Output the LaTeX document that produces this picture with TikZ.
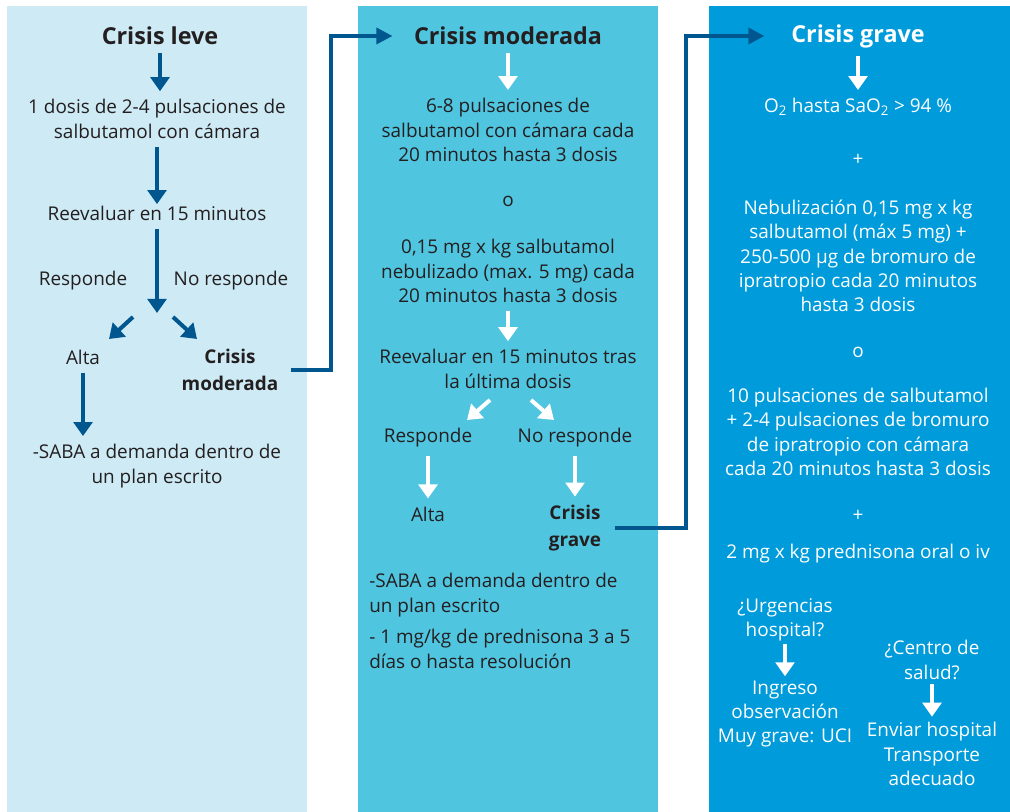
\documentclass[tikz,border=0pt]{standalone}
\usepackage{fontspec}
\setmainfont{Open Sans}
\usetikzlibrary{arrows.meta,calc}
\definecolor{pale}{HTML}{CDEAF5}
\definecolor{mid}{HTML}{50C5E0}
\definecolor{deep}{HTML}{009BDA}
\definecolor{navy}{HTML}{00568F}
\definecolor{ink}{HTML}{231F20}

\begin{document}
\begin{tikzpicture}[x=0.75pt,y=-0.75pt,
	txt/.style={align=center,font=\fontsize{14.2}{18.3}\selectfont,text=ink,inner sep=0pt},
	wtxt/.style={txt,text=white},
	ttl/.style={align=center,font=\fontsize{17.5}{20}\selectfont\bfseries,text=ink,inner sep=0pt},
	bld/.style={txt,font=\fontsize{14.2}{20.5}\selectfont\bfseries},
	darr/.style={line width=3pt,navy,-{Triangle[width=14pt,length=10.5pt]},shorten <=6pt,shorten >=6pt},
	warr/.style={darr,white},
	elb/.style={line width=2.5pt,navy,-{Triangle[width=12pt,length=12pt]}}]

	\useasboundingbox (0,0) rectangle (1010,812);

	\fill[pale] (7,6) rectangle (307,812);
	\fill[mid] (358,6) rectangle (658,812);
	\fill[deep] (709,6) rectangle (1010,812);

	% leve
	\node[ttl] (lv) at (160,36) {Crisis leve};
	\node[txt] (s1) at (157,119) {1 dosis de 2-4 pulsaciones de\\salbutamol con cámara};
	\node[txt] (ev1) at (157,213) {Reevaluar en 15 minutos};
	\node[txt] (r1) at (83,281) {Responde};
	\node[txt] (n1) at (231,281) {No responde};
	\node[txt] (al1) at (83,357) {Alta};
	\node[bld] (cm1) at (230,370) {Crisis\\moderada};
	\node[txt] (sb1) at (157,466) {-SABA a demanda dentro de\\un plan escrito};
	\coordinate (f1) at (157,313);

	\draw[darr] (lv) -- (lv |- s1.north);
	\draw[darr,shorten >=1pt] (s1) -- (s1 |- ev1.north);
	\draw[darr,shorten >=0pt] (ev1) -- (f1);
	\draw[darr,shorten <=0pt,shorten >=0pt] ($(f1)+(-24,4)$) -- ($(f1)+(-48,26)$);
	\draw[darr,shorten <=0pt,shorten >=0pt] ($(f1)+(16,4)$) -- ($(f1)+(40,26)$);
	\draw[darr] (al1) -- (al1 |- sb1.north);

	% moderada
	\node[ttl] (cm2) at (508,36) {Crisis moderada};
	\node[txt] (p2) at (508,130) {6-8 pulsaciones de\\salbutamol con cámara cada\\20 minutos hasta 3 dosis};
	\node[txt] (o2) at (508,201) {o};
	\node[txt] (q2) at (508,271) {0,15 mg x kg salbutamol\\nebulizado (max. 5 mg) cada\\20 minutos hasta 3 dosis};
	\node[txt] (ev2) at (508,369) {Reevaluar en 15 minutos tras\\la última dosis};
	\node[txt] (r2) at (428,438) {Responde};
	\node[txt] (n2) at (575,438) {No responde};
	\node[txt] (al2) at (428,514) {Alta};
	\node[bld] (cg2) at (575,528) {Crisis\\grave};
	\node[txt,align=left,anchor=west] (sb2) at (369,595) {-SABA a demanda dentro de\\un plan escrito};
	\node[txt,align=left,anchor=west] (pr2) at (369,649) {- 1 mg/kg de prednisona 3 a 5\\días o hasta resolución};
	\coordinate (f2) at (510,396);

	\draw[warr] (cm2) -- (cm2 |- p2.north);
	\draw[warr] (q2) -- (q2 |- ev2.north);
	\draw[warr,shorten <=0pt,shorten >=0pt] ($(f2)+(-20,4)$) -- ($(f2)+(-43,24)$);
	\draw[warr,shorten <=0pt,shorten >=0pt] ($(f2)+(21,4)$) -- ($(f2)+(44,24)$);
	\draw[warr] (r2) -- (al2);
	\draw[warr] (n2) -- (n2 |- cg2.north);

	% grave
	\node[ttl,text=white] (cg3) at (858,36) {Crisis grave};
	\node[wtxt] (ox) at (858,107) {O\textsubscript{2} hasta SaO\textsubscript{2} > 94 \%};
	\node[wtxt] (pl1) at (858,160) {+};
	\node[wtxt] (neb) at (858,256) {Nebulización 0,15 mg x kg\\salbutamol (máx 5 mg) +\\250-500 µg de bromuro de\\ipratropio cada 20 minutos\\hasta 3 dosis};
	\node[wtxt] (o3) at (858,352) {o};
	\node[wtxt] (pul) at (858,432) {10 pulsaciones de salbutamol\\+ 2-4 pulsaciones de bromuro\\de ipratropio con cámara\\cada 20 minutos hasta 3 dosis};
	\node[wtxt] (pl2) at (858,516) {+};
	\node[wtxt] (pd) at (858,554) {2 mg x kg prednisona oral o iv};
	\node[wtxt] (urg) at (785,620) {¿Urgencias\\hospital?};
	\node[wtxt] (ing) at (785,714) {Ingreso\\observación\\Muy grave: UCI};
	\node[wtxt] (cen) at (932,660) {¿Centro de\\salud?};
	\node[wtxt] (env) at (932,754) {Enviar hospital\\Transporte\\adecuado};

	\draw[warr] (cg3) -- (cg3 |- ox.north);
	\draw[warr,shorten <=2pt,shorten >=3pt] (urg) -- (ing);
	\draw[warr,shorten <=3pt,shorten >=4pt] (cen) -- (env);

	% saltos
	\coordinate (k1) at (331,0);
	\coordinate (k2) at (686,0);
	\draw[elb,shorten >=16pt] ([xshift=9pt]cm1.east) -| (k1 |- cm2) -- (cm2.west);
	\draw[elb,shorten >=20pt] ([xshift=10pt]cg2.east) -| (k2 |- cg3) -- (cg3.west);

\end{tikzpicture}
\end{document}
